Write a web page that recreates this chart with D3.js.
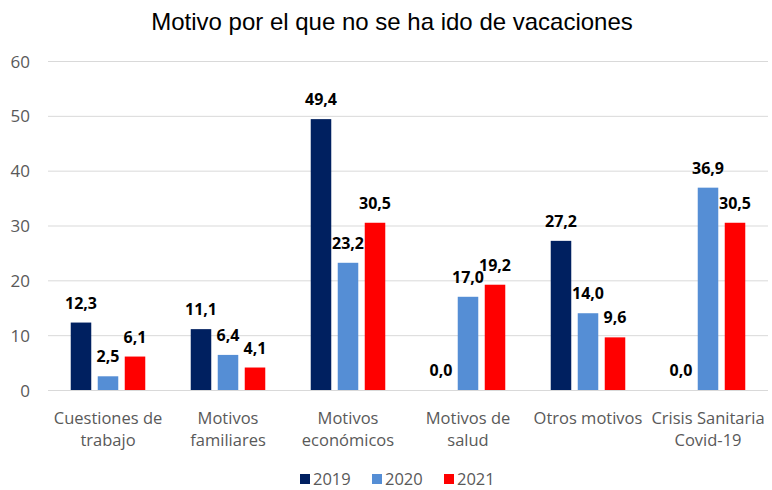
<!DOCTYPE html>
<html lang="es">
<head>
  <meta charset="UTF-8" />
  <title>Motivo por el que no se ha ido de vacaciones</title>
  <style>
    body { margin: 0; background: #fff; }
    svg text { font-family: "Open Sans", sans-serif; }
  </style>
</head>
<body>
  <svg id="chart"></svg>

  <script src="https://d3js.org/d3.v7.min.js"></script>
  <script>
    const categories = [
      ["Cuestiones de", "trabajo"],
      ["Motivos", "familiares"],
      ["Motivos", "económicos"],
      ["Motivos de", "salud"],
      ["Otros motivos"],
      ["Crisis Sanitaria", "Covid-19"]
    ];
    const years = ["2019", "2020", "2021"];
    const values2019 = [12.3, 11.1, 49.4, 0.0, 27.2, 0.0];
    const values2020 = [2.5, 6.4, 23.2, 17.0, 14.0, 36.9];
    const values2021 = [6.1, 4.1, 30.5, 19.2, 9.6, 30.5];
    const yTicks = [0, 10, 20, 30, 40, 50, 60];
    const colors = ["#002060", "#558ed5", "#ff0000"];

    const W = 772, H = 490;
    const svg = d3.select("#chart").attr("width", W).attr("height", H);

    const catKeys = categories.map(c => c.join(" "));
    const series = [values2019, values2020, values2021];

    const x0 = d3.scaleBand().domain(catKeys).range([48, 768]);
    const x1 = d3.scaleBand().domain(years).range([0, x0.bandwidth()])
      .paddingInner(0.24).paddingOuter(0.842);
    const y = d3.scaleLinear().domain([0, 60]).range([390, 61]);

    // title
    svg.append("text")
      .attr("x", 392).attr("y", 30)
      .attr("text-anchor", "middle")
      .style("font-family", "'Liberation Sans', Arial, sans-serif")
      .style("font-size", "24px")
      .attr("fill", "#000")
      .text("Motivo por el que no se ha ido de vacaciones");

    // grid + y labels
    const yAxis = d3.axisLeft(y).tickValues(yTicks).tickSize(-(768 - 48)).tickPadding(18);
    const gy = svg.append("g").attr("transform", "translate(48,0)").call(yAxis);
    gy.select(".domain").remove();
    gy.selectAll(".tick line").attr("stroke", "#d9d9d9").attr("stroke-width", 1);
    gy.selectAll(".tick text")
      .attr("fill", "#595959")
      .style("font-size", "17px")
      .attr("x", -18).attr("dy", "0.36em");

    // bars
    const groups = svg.append("g").selectAll("g")
      .data(catKeys)
      .join("g")
      .attr("transform", d => `translate(${x0(d)},0)`);

    const rows = i => years.map((yr, s) => ({ yr, s, v: series[s][i] }));

    groups.each(function (d, i) {
      const g = d3.select(this);
      const items = rows(i);
      g.selectAll("rect")
        .data(items.filter(e => e.v > 0))
        .join("rect")
        .attr("x", e => x1(e.yr))
        .attr("y", e => y(e.v))
        .attr("width", x1.bandwidth())
        .attr("height", e => y(0) - y(e.v))
        .attr("fill", e => colors[e.s]);
      g.selectAll("text.val")
        .data(items)
        .join("text")
        .attr("class", "val")
        .attr("x", e => x1(e.yr) + x1.bandwidth() / 2)
        .attr("y", e => y(e.v) - 14)
        .attr("text-anchor", "middle")
        .style("font-size", "16px")
        .style("font-weight", "bold")
        .attr("fill", "#000")
        .text(e => d3.format(".1f")(e.v).replace(".", ","));
    });

    // category labels
    const cat = svg.append("g").selectAll("text")
      .data(categories)
      .join("text")
      .attr("x", (d, i) => x0(catKeys[i]) + x0.bandwidth() / 2)
      .attr("y", 424)
      .attr("text-anchor", "middle")
      .attr("fill", "#595959")
      .style("font-size", "16.5px");
    cat.selectAll("tspan")
      .data(d => d)
      .join("tspan")
      .attr("x", function () { return this.parentNode.getAttribute("x"); })
      .attr("dy", (d, j) => j === 0 ? 0 : 22)
      .text(d => d);

    // legend (kept just inside the bottom edge)
    const legX = [300, 372, 444];
    const leg = svg.append("g").selectAll("g")
      .data(years)
      .join("g")
      .attr("transform", (d, i) => `translate(${legX[i]},474)`);
    leg.append("rect").attr("width", 10).attr("height", 10).attr("fill", (d, i) => colors[i]);
    leg.append("text")
      .attr("x", 13).attr("y", 11)
      .attr("fill", "#595959")
      .style("font-size", "16.5px")
      .text(d => d);
  </script>
</body>
</html>
